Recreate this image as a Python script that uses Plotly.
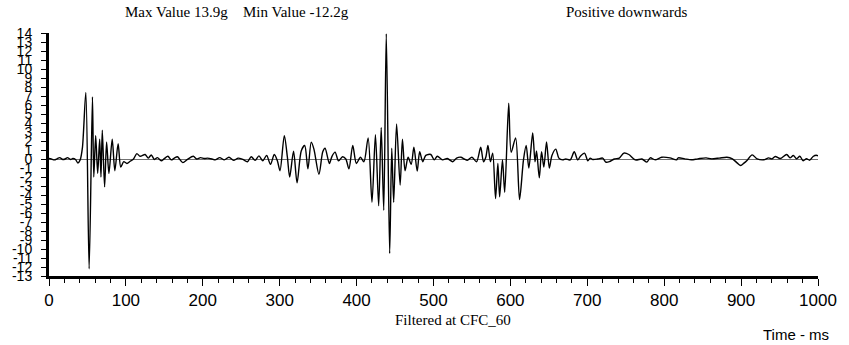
import plotly.graph_objects as go

# ---- data (time in ms, acceleration in g) ----
time_ms = [
    0, 3, 7, 11, 14, 18, 21, 24, 28, 31, 34.5, 37.5, 40.5, 43.5, 47.9, 52.2, 56.5,
    58.2, 60.7, 63.3, 65.9, 67.6, 69.3, 72.3, 74.9, 77.9, 82.2, 85.6, 89.9, 93.3,
    97.2, 101.3, 105.6, 109.9, 114.2, 118.5, 125, 129, 133, 137, 141, 146, 150,
    154.6, 159, 163, 167, 174, 180, 187.7, 192, 197, 202, 206, 212,
    216, 222, 228, 234, 240, 246, 252, 258, 263, 268, 273, 278, 283, 288, 293, 297,
    300.4, 306, 310, 313, 318, 322.6, 328, 332.5, 336.7, 341, 344.5, 351, 356, 359,
    364.6, 368, 372, 376.5, 381.7, 386, 390, 395, 399.7, 405, 409.5, 415, 420,
    424.5, 428.7, 432, 435.3, 438.6, 443, 445.7, 448.2, 452, 456.6, 459.6, 463,
    467, 471, 474.5, 478.8, 482, 486, 490, 496.5, 501, 505, 511.7, 518, 525, 530,
    535.6, 540, 544, 550, 556, 561.4, 565, 568, 570.8, 574, 577, 580.7, 583.7, 586,
    589.7, 592.6, 597.8, 601, 606.8, 611.9, 617, 620.5, 624, 629, 632, 634, 637.6,
    640.5, 643.5, 647, 650.6, 654, 659, 663, 668, 672, 677.7, 683, 687.6, 691,
    696.4, 700.7, 703.7, 707, 713.6, 720, 724, 728.7, 735, 741.6, 747.5, 754,
    762.5, 771, 777.5, 781.8, 788.2, 796.8, 807.5, 816, 818.2, 826.7, 835.3,
    843.8, 854.5, 861, 871.6, 881.5, 888.7, 895.2, 899.4, 903.7, 908, 914.4,
    920.8, 929.4, 935.8, 940, 944.4, 950.8, 959.3, 963.6, 967.9, 972.2, 976.4,
    980.7, 985, 989.3, 993.6, 997.8, 1000,
]
accel_g = [
    0.05, 0.0, -0.1, 0.05, 0.15, -0.05, 0.0, 0.15, -0.05, 0.05, -0.05, -0.45, -0.1, 1.3, 7.4, -12.2, 6.9,
    -2.0, 2.6, -1.6, 2.2, -2.0, 3.2, -3.1, 1.9, -1.6, 2.2, -1.3, 1.7, -0.9,
    -0.3, -0.5, -0.25, 0.0, 0.6, 0.3, 0.5, 0.1, 0.45, -0.05, 0.15, -0.2, 0.05,
    0.3, -0.1, 0.1, 0.25, -0.4, -0.05, 0.3, 0.0, 0.15, 0.05, 0.1, 0.0,
    -0.1, 0.15, -0.1, 0.2, -0.15, 0.1, -0.05, -0.3, 0.25, -0.15, 0.35, -0.2, 0.4, -0.6, 0.5, -0.2,
    -1.3, 2.6, 0.2, -2.0, 0.87, -2.65, 0.9, 1.5, -1.1, 1.87, 1.1, -1.7, 0.8, 1.2,
    -0.5, 0.3, 0.76, -0.2, 0.25, 0.0, -1.1, 1.5, -0.5, 0.2, -0.3, 2.35, -4.8,
    2.7, -5.2, 3.5, -5.7, 13.9, -10.5, 1.2, -4.8, 3.9, -2.9, 2.2, -1.3,
    0.2, -0.6, 1.3, -1.35, 0.8, -0.3, 0.4, 0.5, -0.1, 0.3, -0.1, 0.05, -0.3, 0.1,
    0.2, 0.0, -0.15, 0.2, -0.3, 1.3, -0.3, 0.2, 1.5, -0.3, 0.65, -4.4, -0.5, -4.2,
    -0.1, -3.7, 6.2, 0.75, 2.35, -4.5, -0.1, 1.5, -1.0, 2.9, -0.3, 0.9, -2.1,
    0.8, -0.9, 1.9, -1.0, 0.4, 1.1, 0.1, -0.1, 0.0, -0.1, 0.8, -0.1, 0.3,
    0.65, -0.2, 0.1, -0.05, 0.0, 0.1, -0.35, -0.3, 0.0, 0.1, 0.65, 0.5,
    -0.1, 0.0, -0.35, 0.13, -0.09, 0.2, 0.13, -0.09, 0.13, 0.02, -0.09,
    0.02, 0.13, 0.02, 0.1, 0.2, 0.02, -0.46, -0.72, -0.46, -0.13, 0.46,
    0.02, -0.09, 0.13, 0.02, 0.28, 0.05, 0.5, 0.13, 0.39, 0.02, 0.3,
    -0.2, 0.02, -0.13, 0.28, 0.42, 0.35,
]

x_ticks = list(range(0, 1001, 100))
y_ticks = list(range(-13, 15))

SERIF = "Liberation Serif, Times New Roman, serif"
SANS = "Liberation Sans, Arial, sans-serif"

L, R, T, B = 46, 24, 33, 69
W, H = 849, 345
PW, PH = W - L - R, H - T - B


def px(xp):
    return (xp - L) / PW


def py(yp):
    return (H - B - yp) / PH


fig = go.Figure()
fig.add_trace(go.Scatter(
    x=time_ms, y=accel_g, mode="lines",
    line=dict(color="black", width=1.4, shape="spline", smoothing=0.8),
    hoverinfo="skip", showlegend=False,
))

fig.update_layout(
    width=W, height=H,
    margin=dict(l=L, r=R, t=T, b=B, pad=0),
    paper_bgcolor="white", plot_bgcolor="white",
    showlegend=False,
    xaxis=dict(
        range=[0, 1000], tickvals=x_ticks, ticktext=[str(v) for v in x_ticks],
        ticks="outside", ticklen=7, tickwidth=1, tickcolor="black",
        showline=True, linewidth=3, linecolor="black", mirror=False,
        showgrid=False, zeroline=False,
        minor=dict(dtick=20, tick0=0, ticks="outside", ticklen=4, tickwidth=1, tickcolor="black", showgrid=False),
        tickfont=dict(family=SANS, size=17, color="black"),
    ),
    yaxis=dict(
        range=[-13, 14], tickvals=y_ticks, ticktext=[str(v) for v in y_ticks],
        ticks="outside", ticklen=5, tickwidth=1, tickcolor="black",
        showline=True, linewidth=3, linecolor="black",
        showgrid=False, zeroline=True, zerolinecolor="#707070", zerolinewidth=1,
        tickfont=dict(family=SANS, size=14, color="black"),
        ticklabelstandoff=6,
    ),
    annotations=[
        dict(text="Max Value 13.9g", x=px(121), y=py(12), xref="paper", yref="paper",
             xanchor="left", yanchor="middle", showarrow=False,
             font=dict(family=SERIF, size=15, color="black")),
        dict(text="Min Value -12.2g", x=px(240), y=py(12), xref="paper", yref="paper",
             xanchor="left", yanchor="middle", showarrow=False,
             font=dict(family=SERIF, size=15, color="black")),
        dict(text="Positive downwards", x=px(568), y=py(12), xref="paper", yref="paper",
             xanchor="left", yanchor="middle", showarrow=False,
             font=dict(family=SERIF, size=15, color="black")),
        dict(text="Filtered at CFC_60", x=px(455), y=py(320), xref="paper", yref="paper",
             xanchor="center", yanchor="middle", showarrow=False,
             font=dict(family=SERIF, size=15, color="black")),
        dict(text="Time - ms", x=px(838), y=py(334), xref="paper", yref="paper",
             xanchor="right", yanchor="middle", showarrow=False,
             font=dict(family=SANS, size=15, color="black")),
    ],
)

fig.write_html("out.html")
